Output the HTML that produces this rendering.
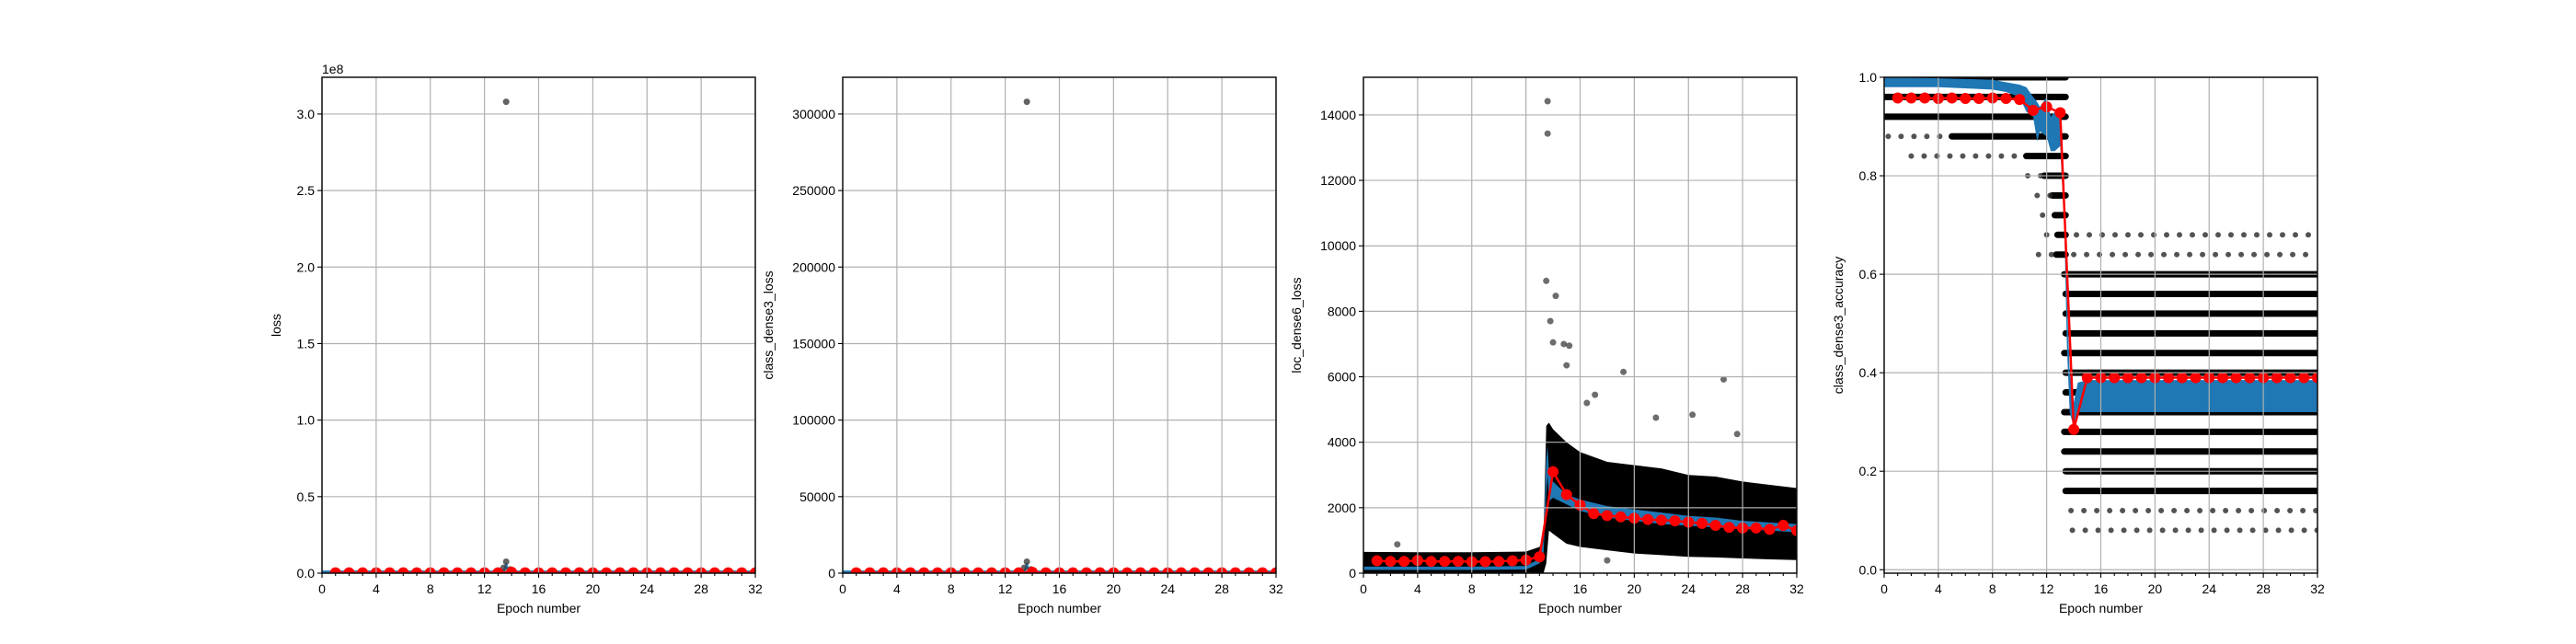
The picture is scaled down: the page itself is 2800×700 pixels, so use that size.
<!DOCTYPE html>
<html><head><meta charset="utf-8"><style>
html,body{margin:0;padding:0;background:#fff;}
svg{display:block;font-family:"Liberation Sans","DejaVu Sans",sans-serif;}
text{fill:#000;font-size:14px;}
</style></head>
<body>
<svg id="fig" width="2800" height="700" viewBox="0 0 2800 700" xmlns="http://www.w3.org/2000/svg"></svg>
<script>
// ---------- data ----------
const xTicks = [0,4,8,12,16,20,24,28,32];
const epochs = [1,2,3,4,5,6,7,8,9,10,11,12,13,14,15,16,17,18,19,20,21,22,23,24,25,26,27,28,29,30,31,32];

// panel 1: loss
const lossTicks = [0,0.5e8,1.0e8,1.5e8,2.0e8,2.5e8,3.0e8];
const lossTickLabels = ["0.0","0.5","1.0","1.5","2.0","2.5","3.0"];
const lossRed = [2e5,2e5,2e5,2e5,2e5,2e5,2e5,2e5,2e5,2e5,2e5,2e5,2e5,6e5,2e5,2e5,2e5,2e5,2e5,2e5,2e5,2e5,2e5,2e5,2e5,2e5,2e5,2e5,2e5,2e5,2e5,2e5];
const lossOutX = [13.6,13.6,13.4,13.9];
const lossOutY = [3.08e8,7.5e6,3.5e6,2.5e6];
const lossBlueX = [0,13.4,13.5,13.6,13.7,13.8,32];
const lossBlueY = [1e6,1e6,3e6,6e6,2e6,1e6,1e6];

// panel 2: class_dense3_loss
const clsTicks = [0,50000,100000,150000,200000,250000,300000];
const clsTickLabels = ["0","50000","100000","150000","200000","250000","300000"];
const clsRed = [200,200,200,200,200,200,200,200,200,200,200,200,200,600,200,200,200,200,200,200,200,200,200,200,200,200,200,200,200,200,200,200];
const clsOutX = [13.6,13.6,13.4,13.9];
const clsOutY = [308000,7500,3500,2500];
const clsBlueX = [0,13.4,13.5,13.6,13.7,13.8,32];
const clsBlueY = [1000,1000,3000,6000,2000,1000,1000];

// panel 3: loc_dense6_loss
const locTicks = [0,2000,4000,6000,8000,10000,12000,14000];
const locTickLabels = ["0","2000","4000","6000","8000","10000","12000","14000"];
const locRed = [380,360,360,390,360,360,360,350,350,360,380,400,500,3100,2400,2080,1820,1760,1720,1680,1640,1620,1600,1560,1520,1460,1400,1380,1380,1340,1460,1300];
const locBandX = [0,4,8,12,13,13.3,13.5,13.7,14,15,16,18,20,22,24,26,28,30,32];
const locBandLo = [0,0,0,0,0,0,300,1300,1200,900,800,700,600,550,500,480,450,420,400];
const locBandHi = [650,640,640,660,800,1100,4500,4600,4400,4000,3700,3400,3300,3200,3000,2950,2800,2700,2600];
const locBlueX = [0,4,8,12,12.5,13,13.3,13.5,13.6,13.7,14,15,16,18,20,22,24,26,28,30,32];
const locBlueLo = [100,100,100,110,200,300,600,2400,3000,2200,2300,2100,1900,1700,1600,1500,1450,1400,1350,1300,1250];
const locBlueHi = [200,200,200,220,330,420,1000,3500,3900,3100,2800,2400,2250,2050,1950,1850,1750,1700,1600,1550,1500];
const locOutX = [13.6,13.6,13.5,14.2,13.8,14.0,14.8,15.2,19.2,26.6,17.1,21.6,24.3,15.0,2.5,18.0,16.5,27.6];
const locOutY = [14420,13430,8930,8470,7700,7050,7000,6950,6150,5920,5450,4750,4840,6350,880,390,5200,4250];

// panel 4: class_dense3_accuracy
const accTicks = [0,0.2,0.4,0.6,0.8,1.0];
const accTickLabels = ["0.0","0.2","0.4","0.6","0.8","1.0"];
const accRed = [0.958,0.958,0.958,0.957,0.958,0.957,0.957,0.958,0.957,0.955,0.933,0.94,0.928,0.285,0.39,0.39,0.39,0.39,0.39,0.39,0.39,0.39,0.39,0.39,0.39,0.39,0.39,0.39,0.39,0.39,0.39,0.39];
const accRowLevel = [1.0,0.96,0.92,0.88,0.84,0.80,0.76,0.72,0.68,0.64,0.60,0.56,0.52,0.48,0.44,0.40,0.36,0.32,0.28,0.24,0.20,0.16];
const accRowStart = [0,0,0,5,10.5,11.8,12.4,12.6,12.8,12.7,13.3,13.4,13.4,13.4,13.3,13.4,13.4,13.3,13.3,13.3,13.4,13.4];
const accRowEnd   = [13.4,13.4,13.4,13.4,13.4,13.4,13.4,13.4,13.4,13.4,32,32,32,32,32,32,32,32,32,32,32,32];
const accSparseLevel = [0.88,0.84,0.80,0.76,0.72,0.68,0.64,0.12,0.08,0.68,0.64];
const accSparseStart = [0.3,2,10.6,11.3,11.7,12,11.4,13.8,13.9,14.2,14];
const accSparseEnd   = [5,10.5,11.8,12.4,12.6,12.8,12.7,32,32,32,32];
const accBlueX = [0,4,8,9,10,10.5,11,11.3,11.5,12,12.3,12.6,13,13.3,13.5,13.7,14,14.3,15,20,25,32];
const accBlueLo = [0.98,0.98,0.975,0.97,0.96,0.93,0.92,0.87,0.89,0.88,0.85,0.85,0.86,0.7,0.45,0.32,0.29,0.32,0.32,0.32,0.32,0.32];
const accBlueHi = [1.0,0.998,0.995,0.99,0.985,0.98,0.96,0.95,0.94,0.96,0.92,0.93,0.93,0.77,0.55,0.4,0.34,0.38,0.385,0.385,0.385,0.385];

// ---------- drawing ----------
const NS="http://www.w3.org/2000/svg";
const fig=document.getElementById('fig');
function mk(tag,attrs,parent){const e=document.createElementNS(NS,tag);for(const k in attrs)e.setAttribute(k,attrs[k]);(parent||fig).appendChild(e);return e;}
const TOP=84,BOT=623,W=471;
function panel(left,ymin,ymax,name){
  const g=mk('g',{});
  
  
  const sx=v=>left+(v-0)/(32-0)*W;
  const sy=v=>BOT-(v-ymin)/(ymax-ymin)*(BOT-TOP);
  const clip=mk('clipPath',{id:'c'+name},g);
  mk('rect',{x:left,y:TOP,width:W,height:BOT-TOP},clip);
  const plot=mk('g',{'clip-path':'url(#c'+name+')'},g);
  return {g,plot,sx,sy,left};
}
function grid(p,yt){
  const gg=mk('g',{},p.g);
  
  
  xTicks.forEach(t=>mk('line',{x1:p.sx(t),x2:p.sx(t),y1:TOP,y2:BOT,stroke:'#b0b0b0','stroke-width':1.2},gg));
  yt.forEach(t=>mk('line',{x1:p.left,x2:p.left+W,y1:p.sy(t),y2:p.sy(t),stroke:'#b0b0b0','stroke-width':1.2},gg));
}
function axes(p,yt,labels,ylabel,labX){
  const ax=mk('g',{},p.g);
  
  
  mk('rect',{x:p.left,y:TOP,width:W,height:BOT-TOP,fill:'none',stroke:'#000','stroke-width':1.4},ax);
  for(let i=0;i<=32;i++){const big=i%4===0;mk('line',{x1:p.sx(i),x2:p.sx(i),y1:BOT,y2:BOT+(big?5:3),stroke:'#000','stroke-width':1.1},ax);}
  xTicks.forEach(t=>{const tx=mk('text',{x:p.sx(t),y:BOT+22,'text-anchor':'middle'},ax);tx.textContent=t;
    
    });
  yt.forEach((t,i)=>{mk('line',{x1:p.left-5,x2:p.left,y1:p.sy(t),y2:p.sy(t),stroke:'#000','stroke-width':1.1},ax);
    const tx=mk('text',{x:p.left-8,y:p.sy(t)+5,'text-anchor':'end'},ax);tx.textContent=labels[i];
    
    });
  const xl=mk('text',{x:p.left+W/2,y:BOT+43,'text-anchor':'middle'},ax);xl.textContent='Epoch number';
  
  
  const yl=mk('text',{x:0,y:0,'text-anchor':'middle',transform:`translate(${p.left-labX},${(TOP+BOT)/2}) rotate(-90)`},ax);yl.textContent=ylabel;
  
  
}
function dots(p,xs,ys,r,fill){xs.forEach((x,i)=>{const c=mk('circle',{cx:p.sx(x),cy:p.sy(ys[i]),r:r,fill:fill},p.plot);
  
  });}
function band(p,xs,lo,hi,fill,name){let d='M'+xs.map((x,i)=>p.sx(x)+','+p.sy(hi[i])).join('L');
  for(let i=xs.length-1;i>=0;i--)d+='L'+p.sx(xs[i])+','+p.sy(lo[i]);
  const e=mk('path',{d:d+'Z',fill:fill},p.plot);
  
  }
function line(p,xs,ys,color,w,name){const e=mk('polyline',{points:xs.map((x,i)=>p.sx(x)+','+p.sy(ys[i])).join(' '),fill:'none',stroke:color,'stroke-width':w,'stroke-linejoin':'round'},p.plot);
  
  }
function red(p,ys){line(p,epochs,ys,'#ff0000',2.5,'epoch-mean-line');
  epochs.forEach((x,i)=>{const c=mk('circle',{cx:p.sx(x),cy:p.sy(ys[i]),r:6,fill:'#ff0000'},p.plot);
    
    });}

// Panel 1
let p=panel(350,0,3.24e8,'loss-panel');
grid(p,lossTicks);
line(p,[0,32],[0,0],'#000',5,'batch-scatter-band');
line(p,lossBlueX,lossBlueY,'#1f77b4',2.5,'running-average-line');
dots(p,lossOutX,lossOutY,3.5,'rgba(60,60,60,0.8)');
red(p,lossRed);
axes(p,lossTicks,lossTickLabels,'loss',45);
const off=mk('text',{x:350,y:80},p.g);off.textContent='1e8';



// Panel 2
p=panel(916,0,324000,'class-loss-panel');
grid(p,clsTicks);
line(p,[0,32],[0,0],'#000',5,'batch-scatter-band');
line(p,clsBlueX,clsBlueY,'#1f77b4',2.5,'running-average-line');
dots(p,clsOutX,clsOutY,3.5,'rgba(60,60,60,0.8)');
red(p,clsRed);
axes(p,clsTicks,clsTickLabels,'class_dense3_loss',76);

// Panel 3
p=panel(1482,0,15150,'loc-loss-panel');
grid(p,locTicks);
band(p,locBandX,locBandLo,locBandHi,'#000','batch-scatter-band');
dots(p,locOutX,locOutY,3.5,'rgba(60,60,60,0.75)');
band(p,locBlueX,locBlueLo,locBlueHi,'#1f77b4','running-average-line');
red(p,locRed);
axes(p,locTicks,locTickLabels,'loc_dense6_loss',68);

// Panel 4
p=panel(2048,-0.007,1.0,'accuracy-panel');
grid(p,accTicks);
accRowLevel.forEach((l,i)=>{const e=mk('line',{x1:p.sx(accRowStart[i]),x2:p.sx(accRowEnd[i]),y1:p.sy(l),y2:p.sy(l),stroke:'#000','stroke-width':7,'stroke-linecap':'round'},p.plot);
  
  });
accSparseLevel.forEach((l,i)=>{const e=mk('line',{x1:p.sx(accSparseStart[i]),x2:p.sx(accSparseEnd[i]),y1:p.sy(l),y2:p.sy(l),stroke:'rgba(40,40,40,0.8)','stroke-width':6,'stroke-linecap':'round','stroke-dasharray':'0 14'},p.plot);
  
  });
band(p,accBlueX,accBlueLo,accBlueHi,'#1f77b4','running-average-line');
red(p,accRed);
axes(p,accTicks,accTickLabels,'class_dense3_accuracy',45);
</script>
</body></html>
